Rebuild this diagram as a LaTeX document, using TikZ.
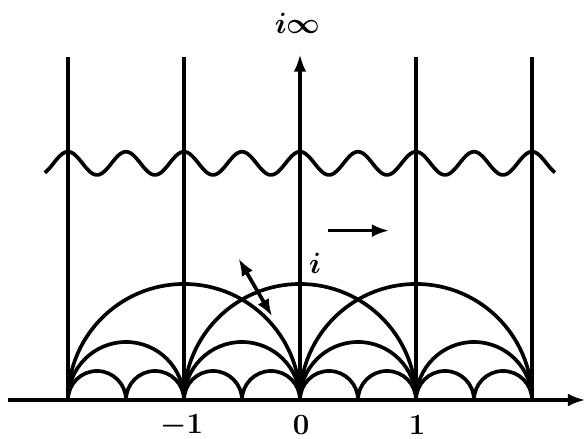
\documentclass[tikz,border=0pt]{standalone}
\usepackage{amsmath,amssymb}
\usepackage{tikz}
\usetikzlibrary{arrows.meta,positioning,calc}

\begin{document}
\begin{tikzpicture}[x=2cm,y=2cm,line width=1.8pt,
  arr/.style={-{Latex[length=0.3cm,width=0.22cm]}},
  dblarr/.style={{Latex[length=0.3cm,width=0.22cm]}-{Latex[length=0.3cm,width=0.22cm]}},
  numlabel/.style={font=\Large}]
\useasboundingbox (-2.586,-0.328) rectangle (2.474,3.448);
% real axis
\coordinate (xl) at (-2.52,0);
\coordinate (xr) at (2.46,0);
\draw[arr] (xl) -- (xr);
% verticals
\foreach \k in {-2,-1,1,2}
  \draw (\k,0) -- (\k,2.96);
\coordinate (orig) at (0,0);
\coordinate (ytop) at (0,2.98);
\draw[arr] (orig) -- (ytop);
\node[numlabel] (iinf) at (-0.02,3.25) {$\boldsymbol{i\infty}$};
% semicircles
\foreach \c in {-1,0,1}
  \draw (\c-1,0) arc (180:0:1);
\foreach \c in {-1.5,-0.5,0.5,1.5}
  \draw (\c-0.5,0) arc (180:0:0.5);
\foreach \c in {-1.75,-1.25,...,1.75}
  \draw (\c-0.25,0) arc (180:0:0.25);
% wave
\draw[samples=300,domain=-2.2:2.2,smooth] plot (\x,{2.04+0.1*cos(720*\x)});
% arrows
\coordinate (ha) at (0.24,1.46);
\coordinate (hb) at (0.77,1.46);
\draw[arr] (ha) -- (hb);
\coordinate (da) at (-0.53,1.22);
\coordinate (db) at (-0.24,0.72);
\draw[dblarr] (da) -- (db);
\node[numlabel] (ipt) at (0.13,1.18) {$\boldsymbol{i}$};
% labels
\node[numlabel] (mone) at (-1.02,-0.22) {$\boldsymbol{-1}$};
\node[numlabel] (zero) at (0.01,-0.22) {$\boldsymbol{0}$};
\node[numlabel] (one) at (1.01,-0.22) {$\boldsymbol{1}$};
\end{tikzpicture}
\end{document}
